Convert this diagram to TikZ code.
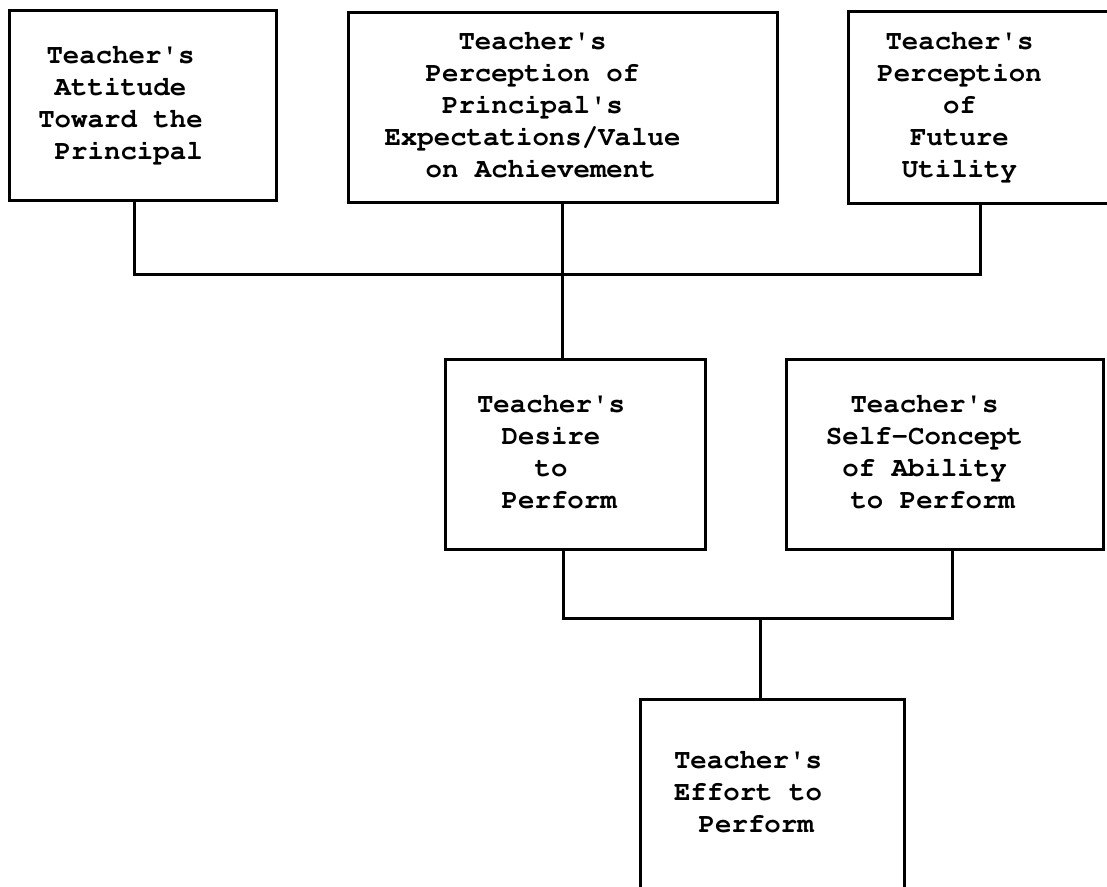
\documentclass[tikz,border=0pt]{standalone}
\usepackage[T1]{fontenc}

% text lines of a box, moved sideways by #1
\newcommand{\boxlines}[2]{\hspace*{#1}\begin{tabular}{@{}c@{}}#2\end{tabular}\hspace*{-#1}}
\newcommand{\apos}{\textquotesingle}

\tikzset{
    box/.style={draw, line width=3pt, inner sep=0pt,
        font=\fontfamily{pcr}\bfseries\fontsize{27.4pt}{32pt}\selectfont},
    link/.style={line width=3pt}
}

\begin{document}
\begin{tikzpicture}[x=1pt, y=-1pt]

    % Page frame
    \useasboundingbox (0, 0) rectangle (1107, 886);
    \clip (0, 0) rectangle (1107, 886);

    % Top row
    \node[box, minimum width=267pt, minimum height=190pt] (att) at (142.5, 105)
        {\boxlines{-22pt}{Teacher\apos s\\Attitude\\Toward the\\\ Principal}};
    \node[box, minimum width=429pt, minimum height=190pt] (pexp) at (562.5, 107)
        {\boxlines{-30pt}{Teacher\apos s\\Perception of\\Principal\apos s\\Expectations/Value\\\ on Achievement}};
    \node[box, minimum width=267pt, minimum height=192pt] (futr) at (981.5, 107)
        {\boxlines{-22pt}{Teacher\apos s\\Perception\\of\\Future\\Utility}};

    % Middle row
    \node[box, minimum width=260pt, minimum height=190pt] (desire) at (575, 454)
        {\boxlines{-24pt}{Teacher\apos s\\Desire\\to\\\ Perform}};
    \node[box, minimum width=317pt, minimum height=190pt] (self) at (944.5, 454)
        {\boxlines{-20pt}{Teacher\apos s\\Self-Concept\\of Ability\\\ to Perform}};

    % Bottom box
    \node[box, minimum width=264pt, minimum height=190pt] (effort) at (772, 794)
        {\boxlines{-24pt}{Teacher\apos s\\Effort to\\\ Perform}};

    % Connectors
    \coordinate (j1) at (0, 274);
    \coordinate (j2) at (0, 618);
    \draw[link] ([xshift=-8.5pt]att.south) |- ([xshift=-1.5pt]futr.south |- j1) -- ([xshift=-1.5pt]futr.south);
    \draw[link] (pexp.south) -- (pexp.south |- desire.north);
    \draw[link] ([xshift=-12pt]desire.south) |- ([xshift=7.5pt]self.south |- j2) -- ([xshift=7.5pt]self.south);
    \draw[link] ([xshift=-12pt]effort.north) -- ([xshift=-12pt]effort.north |- j2);

\end{tikzpicture}
\end{document}
